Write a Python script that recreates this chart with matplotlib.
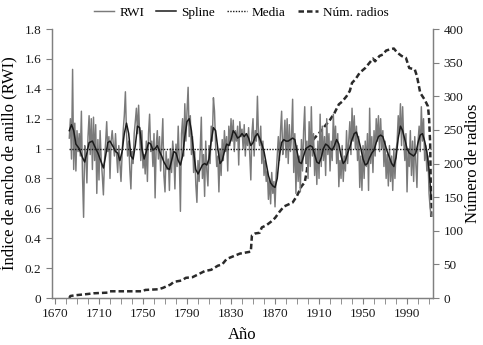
import numpy as np
import matplotlib.pyplot as plt
from matplotlib.ticker import FixedLocator, MultipleLocator, FuncFormatter

# ring width index, one value per year from 1683 to 2012
first_year = 1683
rwi = [
    1.07, 1.20, 0.93, 1.53, 0.86, 1.17, 0.85, 1.12, 0.98, 1.10,
    0.95, 1.25, 0.82, 0.54, 1.02, 0.95, 0.77, 1.08, 1.22, 0.96,
    1.20, 0.86, 1.21, 0.92, 1.16, 0.70, 1.06, 0.79, 1.12, 0.93,
    0.82, 0.69, 0.92, 1.04, 1.18, 0.98, 1.08, 0.80, 1.05, 1.12,
    1.03, 0.95, 1.10, 0.96, 0.84, 1.02, 0.90, 0.78, 0.96, 1.12,
    1.22, 1.38, 1.10, 0.95, 1.05, 0.86, 0.73, 0.98, 0.90, 1.10,
    1.18, 1.27, 1.10, 1.29, 1.08, 0.92, 1.12, 0.87, 0.96, 0.83,
    1.05, 0.78, 1.10, 1.23, 0.98, 1.05, 0.88, 1.10, 0.67, 1.02,
    1.12, 0.93, 1.08, 0.85, 1.02, 1.20, 0.82, 0.71, 0.98, 0.86,
    0.93, 0.72, 1.00, 0.84, 1.05, 0.96, 0.73, 1.03, 0.88, 1.15,
    0.92, 0.58, 1.10, 1.20, 0.95, 1.30, 1.05, 1.25, 1.41, 1.08,
    1.22, 0.96, 1.08, 0.84, 0.98, 0.76, 0.64, 0.92, 0.78, 1.00,
    1.21, 0.80, 0.96, 0.68, 1.05, 0.85, 0.75, 1.02, 0.90, 1.15,
    1.05, 1.34, 1.25, 1.02, 0.88, 0.95, 0.71, 1.00, 0.82, 1.06,
    0.92, 1.12, 0.98, 1.08, 0.85, 1.15, 1.02, 1.20, 1.05, 1.19,
    0.98, 1.12, 1.05, 1.15, 0.89, 1.18, 1.08, 1.13, 1.00, 1.16,
    0.95, 1.10, 1.02, 1.14, 0.96, 0.79, 1.10, 1.20, 0.95, 1.12,
    1.05, 1.35, 1.08, 1.02, 1.15, 0.90, 1.05, 0.82, 0.92, 0.78,
    0.85, 0.66, 0.80, 0.63, 0.84, 0.70, 0.78, 0.61, 0.82, 0.95,
    1.08, 0.92, 1.12, 1.25, 0.96, 1.05, 1.19, 0.94, 1.20, 0.90,
    1.16, 0.98, 1.08, 1.33, 0.84, 1.10, 0.70, 1.02, 0.78, 0.95,
    0.71, 1.06, 0.85, 1.12, 1.28, 0.90, 1.05, 0.80, 1.18, 0.88,
    1.28, 0.95, 1.10, 0.82, 1.00, 0.76, 1.05, 0.80, 1.23, 0.88,
    1.15, 0.92, 1.08, 0.82, 1.20, 0.96, 1.10, 0.85, 1.05, 0.92,
    1.23, 1.00, 1.15, 0.90, 1.10, 0.745, 0.92, 0.80, 1.02, 0.78,
    0.95, 0.85, 1.12, 0.90, 1.05, 1.18, 0.96, 1.27, 1.05, 1.22,
    1.00, 1.15, 0.92, 1.08, 0.74, 0.95, 0.72, 1.02, 0.80, 1.05,
    0.88, 1.10, 0.72, 1.27, 0.90, 1.08, 0.84, 1.12, 0.95, 1.20,
    1.05, 1.22, 0.98, 1.20, 1.00, 1.12, 0.88, 1.05, 0.80, 0.96,
    0.75, 1.02, 0.78, 0.95, 0.72, 1.00, 0.80, 0.98, 1.05, 1.22,
    1.10, 1.30, 1.02, 1.28, 1.05, 0.92, 1.10, 0.71, 1.00, 0.88,
    1.12, 0.82, 1.05, 0.78, 1.08, 0.90, 0.74, 1.05, 1.15, 0.98,
    1.28, 1.05, 1.20, 0.92, 1.02, 0.85, 0.95, 0.70, 0.60, 0.55,
]
years = np.arange(first_year, first_year + len(rwi))

# smoothing spline, every couple of years
spline_years = [
    1683, 1685, 1687, 1689, 1692, 1695, 1697, 1699, 1701, 1704, 1707, 1709,
    1711, 1714, 1716, 1718, 1720, 1723, 1725, 1727, 1729, 1731, 1733, 1735,
    1737, 1739, 1741, 1743, 1745, 1747, 1749, 1751, 1753, 1755, 1757, 1759,
    1761, 1763, 1765, 1767, 1769, 1772, 1774, 1776, 1778, 1780, 1782, 1784,
    1786, 1788, 1790, 1792, 1794, 1796, 1798, 1800, 1802, 1804, 1806, 1808,
    1810, 1812, 1814, 1816, 1818, 1820, 1822, 1824, 1826, 1828, 1830, 1832,
    1834, 1836, 1838, 1840, 1842, 1844, 1846, 1848, 1850, 1852, 1854, 1856,
    1858, 1860, 1862, 1864, 1866, 1868, 1870, 1872, 1874, 1876, 1878, 1880,
    1882, 1884, 1886, 1888, 1890, 1892, 1894, 1896, 1898, 1900, 1902, 1904,
    1906, 1908, 1910, 1912, 1914, 1916, 1918, 1920, 1922, 1924, 1926, 1928,
    1930, 1932, 1934, 1936, 1938, 1940, 1942, 1944, 1946, 1948, 1950, 1952,
    1954, 1956, 1958, 1960, 1962, 1964, 1966, 1968, 1970, 1972, 1974, 1976,
    1978, 1980, 1982, 1984, 1986, 1988, 1990, 1992, 1994, 1996, 1998, 2000,
    2002, 2004, 2006, 2008, 2010, 2011, 2012,
]
spline_vals = [
    1.12, 1.16, 1.12, 1.03, 1.00, 0.94, 0.91, 0.97, 1.04, 1.05, 1.00, 0.97,
    0.93, 0.87, 0.95, 1.04, 1.05, 1.01, 0.98, 0.97, 0.92, 0.98, 1.10, 1.17,
    1.10, 0.95, 0.93, 1.02, 1.15, 1.14, 1.00, 0.93, 0.98, 1.04, 1.03, 0.99,
    1.00, 1.02, 0.98, 0.95, 0.91, 0.87, 0.86, 0.92, 0.98, 0.97, 0.92, 0.89,
    0.95, 1.08, 1.18, 1.20, 1.12, 0.98, 0.86, 0.83, 0.86, 0.89, 0.90, 0.89,
    0.93, 1.05, 1.14, 1.12, 1.00, 0.90, 0.92, 0.98, 1.03, 1.02, 1.06, 1.12,
    1.10, 1.07, 1.08, 1.10, 1.08, 1.10, 1.07, 1.02, 1.04, 1.08, 1.10, 1.07,
    1.03, 0.98, 0.90, 0.82, 0.77, 0.75, 0.74, 0.80, 0.95, 1.04, 1.06, 1.05,
    1.05, 1.06, 1.07, 1.06, 0.98, 0.91, 0.90, 0.95, 1.00, 1.01, 1.02, 1.01,
    0.96, 0.91, 0.90, 0.94, 1.00, 1.03, 1.02, 1.00, 0.99, 1.02, 1.06, 1.03,
    0.95, 0.90, 0.92, 0.97, 1.01, 1.06, 1.10, 1.11, 1.06, 1.00, 0.93, 0.89,
    0.90, 0.94, 0.97, 0.99, 1.04, 1.08, 1.09, 1.08, 1.03, 0.98, 0.94, 0.90,
    0.88, 0.94, 1.07, 1.15, 1.12, 1.06, 1.00, 0.97, 0.96, 0.95, 0.97, 1.04,
    1.09, 1.10, 1.05, 0.98, 0.86, 0.76, 0.66,
]
media = 1.0

# number of radii (sample depth), at the years where it changes
radios_years = [
    1683, 1684, 1688, 1700, 1705, 1718, 1720, 1750, 1752, 1764, 1768, 1775,
    1778, 1785, 1789, 1795, 1800, 1806, 1812, 1818, 1822, 1826, 1832, 1838,
    1848, 1849, 1852, 1856, 1858, 1862, 1866, 1870, 1874, 1878, 1882, 1886,
    1890, 1894, 1897, 1899, 1900, 1902, 1906, 1910, 1915, 1920, 1924, 1928,
    1931, 1935, 1938, 1940, 1943, 1947, 1952, 1956, 1959, 1961, 1965, 1968,
    1971, 1975, 1978, 1981, 1985, 1989, 1992, 1997, 1999, 2002, 2006, 2009,
    2010, 2011, 2012,
]
radios = [
    0, 3, 4, 6, 7, 8, 10, 10, 12, 13, 15, 20,
    24, 26, 30, 31, 35, 40, 42, 48, 50, 58, 62, 66,
    69, 93, 96, 97, 105, 108, 113, 119, 128, 136, 139, 142,
    152, 166, 172, 190, 212, 230, 238, 245, 255, 265, 275, 288,
    292, 300, 308, 320, 325, 335, 342, 350, 356, 352, 360, 362,
    368, 370, 371, 365, 360, 357, 342, 340, 330, 305, 295, 285,
    268, 230, 120,
]

plt.rcParams['font.family'] = ['Liberation Serif', 'DejaVu Serif']
plt.rcParams['font.size'] = 9.3

grey = '#808080'
fig = plt.figure(figsize=(4.83, 3.45), dpi=100)
ax = fig.add_axes([0.1077, 0.1362, 0.7888, 0.7797])
ax2 = ax.twinx()

l1, = ax.plot(years, rwi, color='#7a7a7a', lw=1.05, label='RWI')
l2, = ax.plot(spline_years, spline_vals, color='#1a1a1a', lw=1.1, label='Spline')
l3, = ax.plot([years[0], years[-1]], [media, media], color='#1a1a1a', lw=1.0,
              ls=(0, (1, 1)), label='Media')
l4, = ax2.plot(radios_years, radios, color='#2a2a2a', lw=1.8,
               ls=(0, (2.2, 1.2)), label='Núm. radios')

ax.set_xlim(1667.3, 2013.6)
ax.set_ylim(0, 1.8)
ax2.set_ylim(0, 400)
ax.set_zorder(ax2.get_zorder() + 1)
ax.patch.set_visible(False)

ax.xaxis.set_major_locator(FixedLocator(range(1670, 2011, 40)))
ax.xaxis.set_minor_locator(FixedLocator(range(1670, 2014, 10)))
ax.yaxis.set_major_locator(MultipleLocator(0.2))
ax.yaxis.set_major_formatter(FuncFormatter(lambda v, p: f'{v:g}'))
ax2.yaxis.set_major_locator(MultipleLocator(50))

for a in (ax, ax2):
    a.spines['top'].set_visible(False)
    for s in ('left', 'right', 'bottom'):
        a.spines[s].set_color(grey)
        a.spines[s].set_linewidth(0.9)
    a.tick_params(which='both', color=grey, direction='out', labelcolor='#1a1a1a',
                  length=4, labelsize=9.5)

ax.set_xlabel('Año', fontsize=12, labelpad=5)
ax.set_ylabel('Índice de ancho de anillo (RWI)', fontsize=12, labelpad=5)
ax2.set_ylabel('Número de radios', fontsize=12, labelpad=1)

fig.legend(handles=[l1, l2, l3, l4], loc='upper center', bbox_to_anchor=(0.5, 1.015),
           ncol=4, frameon=False, handlelength=1.5, handletextpad=0.4,
           columnspacing=0.9, fontsize=9.5)

fig.savefig('out.png', dpi=100)
